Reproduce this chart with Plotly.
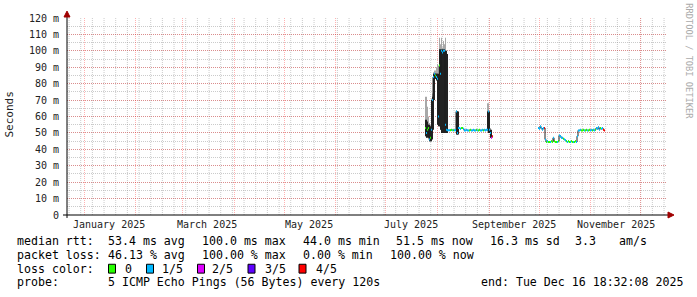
import plotly.graph_objects as go
import pandas as pd

# ---------------- data ----------------
range_start = "2024-12-21 18:32:08"
range_end = "2025-12-16 18:32:08"
step_minutes = 864  # one consolidated step (14.4 h)

month_starts = ["2025-%02d-01" % m for m in range(1, 13)]
week_starts = pd.date_range("2024-12-23", "2025-12-16", freq="7D")
label_dates = ["2025-01-16", "2025-03-16", "2025-05-16", "2025-07-16", "2025-09-16", "2025-11-16"]
label_texts = ["January 2025", "March 2025", "May 2025", "July 2025", "September 2025", "November 2025"]

y_tick_vals = [0, 0.01, 0.02, 0.03, 0.04, 0.05, 0.06, 0.07, 0.08, 0.09, 0.10, 0.11, 0.12]
y_tick_text = ["0", "10 m", "20 m", "30 m", "40 m", "50 m", "60 m", "70 m", "80 m", "90 m", "100 m", "110 m", "120 m"]

loss_colors = ["#26ff00", "#00b8ff", "#dd00ff", "#5e00ff", "#ff0000"]
loss_labels = ["0", "1/5", "2/5", "3/5", "4/5"]

# segment 1 (late July - end of August)
seg1_start = "2025-07-24 14:00"
seg1_median_ms = [53, 50, 52, 53, 46, 47, 52, 70, 84, 86, 85, 84, 83, 60, 91, 86, 100, 99, 100, 100,
                  55, 52, 51.6, 51.6, 51.6, 51.6, 52, 51.6, 51.6, 51.6, 51.6, 63, 50, 53, 53, 52.5,
                  53, 53, 52.5, 51.5, 51.5, 52, 51.5, 51.5, 51.5, 52, 51.5, 51.5, 52, 51.5, 51.5, 52,
                  51.5, 51.5, 52, 51.5, 51.5, 52, 51.5, 52, 51.5, 52, 52, 63, 52, 50, 47, 48]
seg1_loss = [0, 1, 0, 0, 1, 0, 1, 1, 1, 1, 0, 1, 1, 1, 0, 1, 1, 1, 1, 1,
             1, 1, 1, 1, 1, 0, 0, 1, 0, 1, 1, 1, 1, 1, 1, 1,
             0, 0, 1, 1, 1, 1, 1, 1, 0, 0, 1, 1, 1, 1, 1, 0,
             1, 0, 0, 1, 1, 1, 0, 1, 1, 1, 1, 1, 1, 1, 2, 4]
seg1_dark_lo_ms = [48, 47, 48, 47, 45, 45, 46, 52, 70, 83, 83, 82, 55, 54, 54, 52, 50, 50, 50, 51,
                   50, 50, None, None, None, None, None, None, None, None, None, 49, 49, None, None, None,
                   None, None, None, None, None, None, None, None, None, None, None, None, None, None, None, None,
                   None, None, None, None, None, None, None, None, None, None, 51, 50, None, 47, None, None]
seg1_dark_hi_ms = [58, 57, 55, 55, 54, 52, 70, 72, 86, 86, 86, 86, 86, 84, 101, 100, 101, 100, 101, 100,
                   100, 98, None, None, None, None, None, None, None, None, None, 63, 63, None, None, None,
                   None, None, None, None, None, None, None, None, None, None, None, None, None, None, None, None,
                   None, None, None, None, None, None, None, None, None, None, 63, 63, None, 52, None, None]
seg1_smoke_hi_ms = [72, 72, 66, 60, 56, 55, 71, 74, 87, 88, 88, 90, 92, 85, 108, 104, 108, 102, 106, 104,
                    108, 100, None, None, None, None, None, None, None, None, None, 64, 63, None, None, None,
                    None, None, None, None, None, None, None, None, None, None, None, None, None, None, None, None,
                    None, None, None, None, None, None, None, None, None, None, 68, 68, None, 53, None, None]

# segment 2 (October - early November)
seg2_start = "2025-09-30 09:00"
seg2_median_ms = [53, 52.5, 54, 53, 52, 53, 53, 46, 44.5, 45, 44.5, 44.5, 44.5, 45, 44.5, 47, 45, 44.5,
                  44.5, 44.5, 45, 48.5, 48, 47, 47, 46.5, 46, 45.5, 45, 44.5, 45, 44.5, 44.5, 45, 44.5,
                  44.5, 44.5, 45, 44.5, 48, 51.5, 51.5, 52, 51.5, 51.5, 52, 51.5, 51.5, 52, 51.5, 51.5,
                  52, 51.5, 52, 51.5, 52, 51.5, 52, 53, 52.5, 53.5, 52, 53, 52.5, 53, 52, 51.5]
seg2_loss = [1, 1, 1, 1, 1, 1, 4, 1, 0, 1, 0, 0, 1, 0, 0, 1, 0, 0,
             0, 1, 0, 1, 1, 1, 1, 0, 1, 1, 0, 1, 0, 0, 1, 0, 0,
             1, 0, 0, 1, 1, 1, 1, 1, 0, 0, 0, 1, 0, 0, 1, 0,
             0, 1, 1, 0, 1, 1, 0, 1, 1, 1, 1, 0, 1, 1, 4, 4]

# legend text
stat_line1 = [("median rtt:", 16), ("53.4 ms avg", 107), ("100.0 ms max", 201), ("44.0 ms min", 302),
              ("51.5 ms now", 395), ("16.3 ms sd", 489), ("3.3", 574), ("am/s", 618)]
stat_line2 = [("packet loss:", 16), ("46.13 % avg", 107), ("100.00 % max", 201), ("0.00 % min", 302),
              ("100.00 % now", 389)]
loss_box_x = [108.5, 146.5, 197.5, 248, 299]
loss_text_x = [124, 161, 211, 264, 314.5]
probe_line = [("probe:", 16), ("5 ICMP Echo Pings (56 Bytes) every 120s", 107),
              ("end: Tue Dec 16 18:32:08 2025", 480)]

# ---------------- figure ----------------
W, H = 697, 297
L, R, T, B = 67, 30, 15, 82
PW, PH = W - L - R, H - T - B
MONO = "DejaVu Sans Mono"


def px(xp):
    return (xp - L) / PW


def py(yp):
    return (T + PH - yp) / PH


step = pd.Timedelta(minutes=step_minutes)
step_ms = step.total_seconds() * 1000

fig = go.Figure()

segments = [
    (seg1_start, seg1_median_ms, seg1_loss, seg1_dark_lo_ms, seg1_dark_hi_ms, seg1_smoke_hi_ms),
    (seg2_start, seg2_median_ms, seg2_loss, None, None, None),
]

for start, med, loss, dlo, dhi, shi in segments:
    t = pd.date_range(start, periods=len(med), freq=step)
    if shi is not None:
        xs = [t[i] for i in range(len(med)) if shi[i] is not None]
        base = [dlo[i] / 1000 for i in range(len(med)) if shi[i] is not None]
        hgt = [(shi[i] - dlo[i]) / 1000 for i in range(len(med)) if shi[i] is not None]
        fig.add_trace(go.Bar(x=xs, y=hgt, base=base, width=step_ms * 0.6, offset=step_ms * 0.2,
                             marker=dict(color="#a8a8a8", line=dict(width=0)), hoverinfo="skip"))
        base = [dlo[i] / 1000 for i in range(len(med)) if dhi[i] is not None]
        hgt = [(dhi[i] - dlo[i]) / 1000 for i in range(len(med)) if dhi[i] is not None]
        xs = [t[i] for i in range(len(med)) if dhi[i] is not None]
        fig.add_trace(go.Bar(x=xs, y=hgt, base=base, width=step_ms, offset=0,
                             marker=dict(color="#222222", line=dict(width=0)), hoverinfo="skip"))
    # black step line for the median
    fig.add_trace(go.Scatter(x=list(t) + [t[-1] + step], y=[v / 1000 for v in med] + [med[-1] / 1000],
                             mode="lines", line=dict(color="#1e1e1e", width=1, shape="hv"),
                             hoverinfo="skip"))
    # coloured median pieces by loss
    for k, col in enumerate(loss_colors):
        xs, ys = [], []
        for i in range(len(med)):
            if loss[i] == k:
                xs += [t[i], t[i] + step, None]
                ys += [med[i] / 1000, med[i] / 1000, None]
        if xs:
            fig.add_trace(go.Scatter(x=xs, y=ys, mode="lines", line=dict(color=col, width=2),
                                     hoverinfo="skip"))

grid_major = "rgba(255,0,0,0.3)"
grid_minor = "rgba(140,140,140,0.45)"

fig.update_layout(
    width=W, height=H, margin=dict(l=L, r=R, t=T, b=B, pad=0),
    paper_bgcolor="white", plot_bgcolor="white", showlegend=False, barmode="overlay",
    xaxis=dict(type="date", range=[range_start, range_end], tickmode="array", tickvals=month_starts,
               showticklabels=False, ticks="", showgrid=True, gridcolor=grid_major, griddash="1px,1px",
               gridwidth=1, zeroline=False, showline=False),
    yaxis=dict(range=[0, 0.12], tickmode="array", tickvals=y_tick_vals, ticktext=y_tick_text,
               showgrid=True, gridcolor=grid_major, griddash="1px,1px", gridwidth=1,
               zeroline=False, showline=False, ticks="outside", ticklen=5, tickcolor="rgba(0,0,0,0)",
               tickfont=dict(family=MONO, size=10, color="#222"),
               minor=dict(tick0=0, dtick=0.005, showgrid=True, gridcolor=grid_minor,
                          griddash="1px,1px", gridwidth=1, ticks="")),
)

shapes = []
# weekly minor grid
for wk in week_starts:
    shapes.append(dict(type="line", xref="x", yref="paper", x0=wk, x1=wk, y0=0, y1=1, layer="below",
                       line=dict(color=grid_minor, width=1, dash="1px,1px")))
# axis lines and arrows
shapes.append(dict(type="line", xref="paper", yref="paper", x0=px(63), x1=px(669), y0=0, y1=0,
                   line=dict(color="black", width=1)))
shapes.append(dict(type="line", xref="paper", yref="paper", x0=0, x1=0, y0=py(218), y1=py(12),
                   line=dict(color="black", width=1)))
shapes.append(dict(type="path", xref="paper", yref="paper",
                   path="M %f %f L %f %f L %f %f Z" % (px(668), py(212), px(674), py(215), px(668), py(218)),
                   fillcolor="#a00000", line=dict(color="#a00000", width=1)))
shapes.append(dict(type="path", xref="paper", yref="paper",
                   path="M %f %f L %f %f L %f %f Z" % (px(64), py(14), px(67), py(8), px(70), py(14)),
                   fillcolor="#a00000", line=dict(color="#a00000", width=1)))

annotations = []
for d, txt in zip(label_dates, label_texts):
    annotations.append(dict(x=d, y=py(225), xref="x", yref="paper", text=txt, showarrow=False,
                            xanchor="center", yanchor="middle", font=dict(family=MONO, size=10, color="#222")))

annotations.append(dict(x=px(10), y=py(113), xref="paper", yref="paper", text="Seconds", textangle=-90,
                        showarrow=False, xanchor="center", yanchor="middle",
                        font=dict(family=MONO, size=11, color="#222")))
annotations.append(dict(x=px(689), y=py(59), xref="paper", yref="paper", text="RRDTOOL / TOBI OETIKER",
                        textangle=90, showarrow=False, xanchor="center", yanchor="middle",
                        font=dict(family=MONO, size=8.7, color="#aaaaaa")))


def add_text(txt, xpix, ypix):
    annotations.append(dict(x=px(xpix), y=py(ypix), xref="paper", yref="paper", text=txt.replace(" ", "&nbsp;"),
                            showarrow=False, xanchor="left", yanchor="middle",
                            font=dict(family=MONO, size=11.6, color="black"), borderpad=0))


for txt, xp in stat_line1:
    add_text(txt, xp, 241.5)
for txt, xp in stat_line2:
    add_text(txt, xp, 255.5)
add_text("loss color:", 16, 269.5)
for col, lab, bx, tx in zip(loss_colors, loss_labels, loss_box_x, loss_text_x):
    shapes.append(dict(type="rect", xref="paper", yref="paper", x0=px(bx), x1=px(bx + 7),
                       y0=py(274), y1=py(265), fillcolor=col, line=dict(color="black", width=1)))
    add_text(lab, tx, 269.5)
for txt, xp in probe_line:
    add_text(txt, xp, 283.5)

fig.update_layout(shapes=shapes, annotations=annotations)

fig.write_html("out.html")
